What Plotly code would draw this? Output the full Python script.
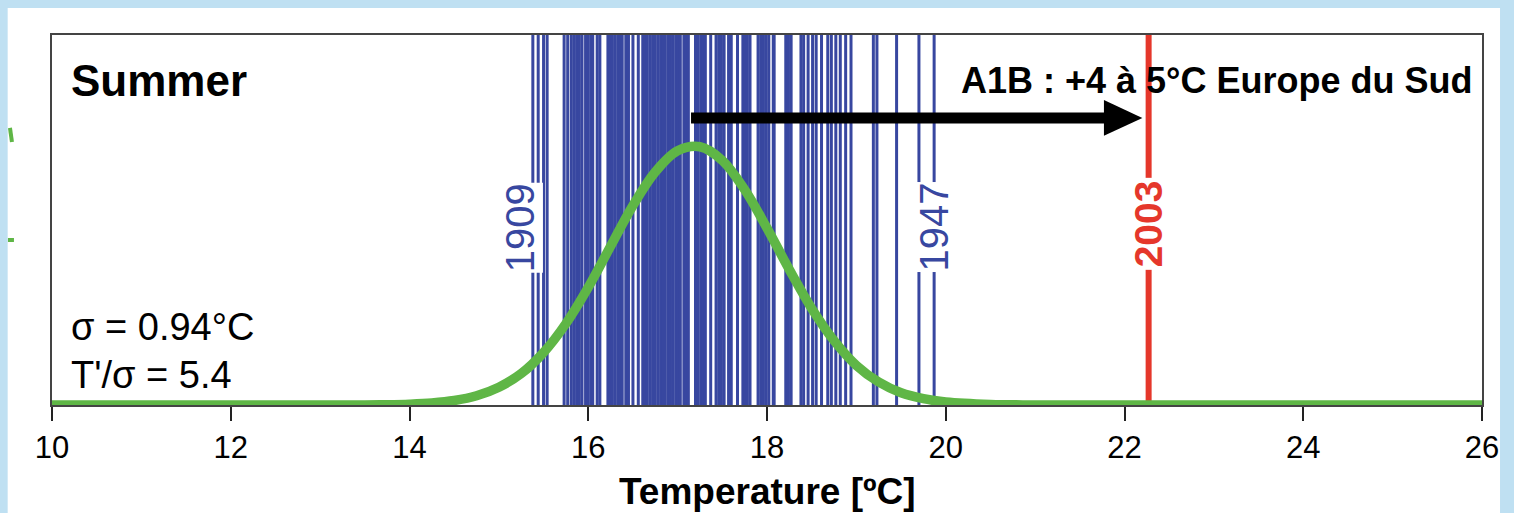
import plotly.graph_objects as go

# ---------------- data ----------------
# summer mean temperatures (one vertical line per year)
year_temps = [15.38, 15.44, 15.50, 15.54, 15.73, 15.77, 15.81, 15.84, 15.87, 15.90,
              15.93, 15.97, 16.00, 16.03, 16.05, 16.10, 16.13, 16.22, 16.24, 16.27,
              16.30, 16.33, 16.36, 16.38, 16.42, 16.45, 16.50, 16.56, 16.61, 16.64,
              16.66, 16.69, 16.72, 16.75, 16.78, 16.81, 16.84, 16.86, 16.89, 16.92,
              16.95, 16.98, 17.00, 17.03, 17.07, 17.09, 17.12, 17.20, 17.23, 17.26,
              17.28, 17.31, 17.37, 17.43, 17.46, 17.49, 17.52, 17.57, 17.60, 17.67,
              17.73, 17.75, 17.78, 17.81, 17.90, 17.93, 17.96, 17.99, 18.02, 18.07,
              18.08, 18.21, 18.24, 18.27, 18.38, 18.41, 18.46, 18.51, 18.55, 18.61,
              18.68, 18.72, 18.77, 18.82, 18.88, 18.94, 19.19, 19.23, 19.45, 19.70,
              19.87]
labelled_years = {"1909": 15.38, "1947": 19.87}
label_shift = {"1909": -12, "1947": 0}
t_2003 = 22.27
peak_temp = 17.15

# fitted distribution curve (relative height)
curve_x = [10.0, 13.0, 13.5, 13.75, 14.0, 14.25, 14.5, 14.75, 15.0, 15.25, 15.5, 15.75,
           16.0, 16.25, 16.5, 16.75, 17.0, 17.25, 17.5, 17.75, 18.0, 18.25, 18.5,
           18.75, 19.0, 19.25, 19.5, 19.75, 20.0, 20.5, 21.0, 22.0, 26.0]
curve_y = [0.0, 0.0, 0.0003, 0.0009, 0.0023, 0.0054, 0.012, 0.025, 0.048, 0.085, 0.142,
           0.220, 0.318, 0.429, 0.539, 0.630, 0.687, 0.698, 0.661, 0.582, 0.478,
           0.366, 0.261, 0.174, 0.107, 0.062, 0.033, 0.017, 0.008, 0.0014, 0.0002,
           0.0, 0.0]

x_ticks = [10, 12, 14, 16, 18, 20, 22, 24, 26]

BLUE = "#3847a0"
GREEN = "#5fb646"
RED = "#e5372b"
BG = "#bfe0f2"
FONT = "Liberation Sans, Arial, Helvetica, sans-serif"

fig = go.Figure()

# year lines
lx, ly = [], []
for t in year_temps:
    lx += [t, t, None]
    ly += [0, 1, None]
fig.add_trace(go.Scatter(x=lx, y=ly, mode="lines", line=dict(color=BLUE, width=3),
                         hoverinfo="skip", showlegend=False))

# 2003 line
fig.add_trace(go.Scatter(x=[t_2003, t_2003], y=[0, 1], mode="lines",
                         line=dict(color=RED, width=6), showlegend=False, hoverinfo="skip"))

# distribution curve
fig.add_trace(go.Scatter(x=curve_x, y=curve_y, mode="lines", line_shape="spline",
                         line=dict(color=GREEN, width=9.5), showlegend=False,
                         hoverinfo="skip"))

# arrow from the mean to 2003
arrow_y = 0.776
head_len = 0.43
head_half = 0.048
tip = t_2003 - 0.07
fig.add_shape(type="line", x0=peak_temp, x1=tip - head_len + 0.02, y0=arrow_y, y1=arrow_y,
              xref="x", yref="y", line=dict(color="black", width=11))
fig.add_shape(type="path", xref="x", yref="y", fillcolor="black", line=dict(width=0),
              path=f"M{tip - head_len},{arrow_y - head_half} L{tip},{arrow_y} "
                   f"L{tip - head_len},{arrow_y + head_half} Z")

# white card behind the chart, and the cropped right edge
fig.add_shape(type="rect", xref="paper", yref="paper", x0=-0.031, x1=1.03, y0=-0.3,
              y1=1.073, fillcolor="white", line=dict(width=0), layer="below")
fig.add_shape(type="rect", xref="paper", yref="paper", x0=1.0126, x1=1.03, y0=-0.3,
              y1=1.1, fillcolor=BG, line=dict(width=0), layer="above")
# small green fragments on the left edge of the slide
fig.add_shape(type="line", xref="paper", yref="paper", x0=-0.0294, y0=0.749, x1=-0.028,
              y1=0.711, line=dict(color=GREEN, width=4), layer="above")
fig.add_shape(type="line", xref="paper", yref="paper", x0=-0.0308, y0=0.446, x1=-0.0266,
              y1=0.446, line=dict(color=GREEN, width=4), layer="above")

ann = []
ann.append(dict(text="Summer", x=0.012, y=0.878, xref="paper", yref="paper", xanchor="left",
                yanchor="middle", showarrow=False,
                font=dict(family=FONT, size=44, color="black", weight="bold")))
ann.append(dict(text="σ = 0.94°C", x=0.012, y=0.211, xref="paper", yref="paper",
                xanchor="left", yanchor="middle", showarrow=False,
                font=dict(family=FONT, size=38, color="black")))
ann.append(dict(text="T'/σ = 5.4", x=0.012, y=0.08, xref="paper", yref="paper",
                xanchor="left", yanchor="middle", showarrow=False,
                font=dict(family=FONT, size=38, color="black")))
ann.append(dict(text="A1B : +4 à 5°C Europe du Sud", x=0.634, y=0.878, xref="paper",
                yref="paper", xanchor="left", yanchor="middle", showarrow=False,
                font=dict(family=FONT, size=36, color="black", weight="bold")))
for name, t in labelled_years.items():
    ann.append(dict(text=name, x=t, y=0.48, xref="x", yref="paper", textangle=-90,
                    xanchor="center", yanchor="middle", showarrow=False, bgcolor="white",
                    xshift=label_shift[name], borderpad=0,
                    font=dict(family=FONT, size=40, color=BLUE)))
ann.append(dict(text="2003", x=t_2003, y=0.49, xref="x", yref="paper", textangle=-90,
                xanchor="center", yanchor="middle", showarrow=False, bgcolor="white",
                borderpad=2, font=dict(family=FONT, size=39, color=RED, weight="bold")))
ann.append(dict(text="Temperature [ºC]", x=0.5, y=-0.235, xref="paper", yref="paper",
                xanchor="center", yanchor="middle", showarrow=False,
                font=dict(family=FONT, size=37, color="black", weight="bold")))

fig.update_layout(
    width=1514, height=513,
    margin=dict(l=52, r=32, t=35, b=108),
    paper_bgcolor=BG, plot_bgcolor="white",
    annotations=ann,
    xaxis=dict(range=[10, 26], tickvals=x_ticks, ticktext=[str(v) for v in x_ticks],
               ticks="outside", ticklen=14, tickwidth=1.5, tickcolor="#222",
               showline=True, linecolor="#444", linewidth=1.5, mirror=True,
               showgrid=False, zeroline=False,
               tickfont=dict(family=FONT, size=31, color="black")),
    yaxis=dict(range=[0, 1], showticklabels=False, ticks="", showline=True,
               linecolor="#444", linewidth=1.5, mirror=True, showgrid=False,
               zeroline=False),
)

fig.write_html("out.html", config={"displayModeBar": False},
               post_script="document.body.style.margin='0';")
